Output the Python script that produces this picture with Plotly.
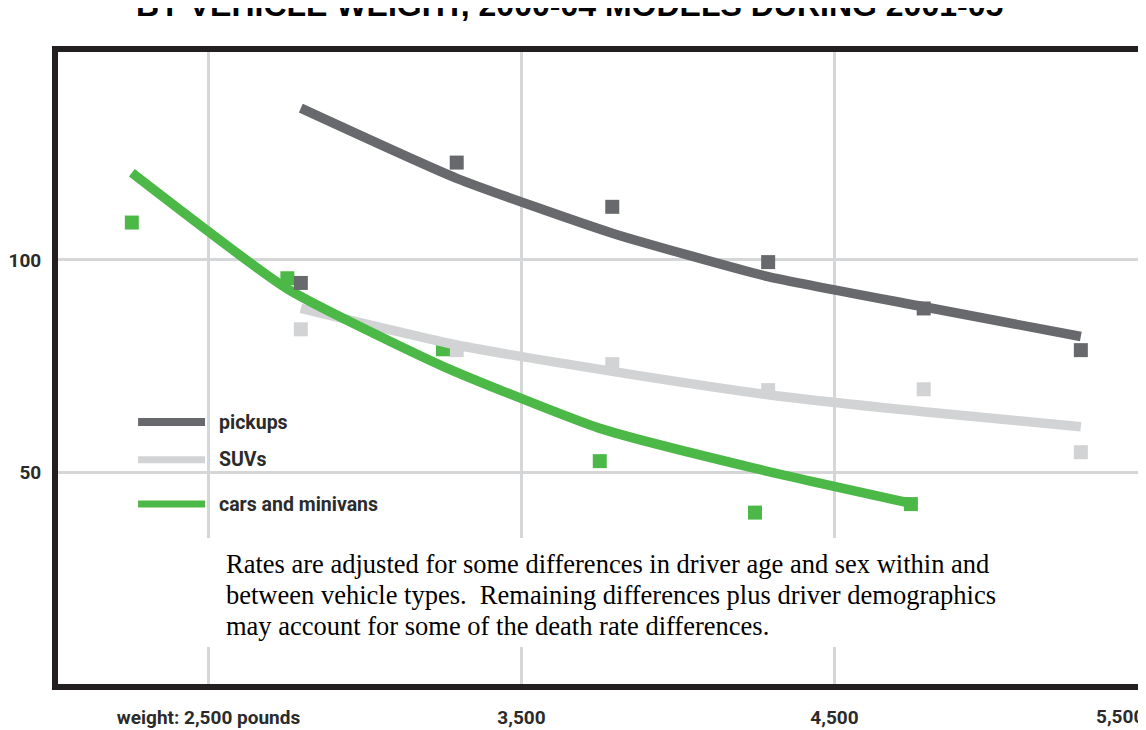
import plotly.graph_objects as go

# ---- data ----
truck_weights = [2795, 3293, 3790, 4288, 4785, 5287]
car_weights = [2255, 2752, 3249, 3750, 4246, 4744]

pickup_rates = [94.6, 122.9, 112.5, 99.5, 88.6, 78.8]
pickup_fit = [135.7, 119.2, 106.3, 96.1, 89.0, 82.0]

suv_rates = [83.7, 78.8, 75.5, 69.4, 69.6, 54.8]
suv_fit = [88.6, 80.0, 73.8, 68.3, 64.3, 60.8]

car_rates = [108.8, 95.7, 79.0, 52.7, 40.6, 42.6]
car_fit = [120.5, 93.2, 75.0, 60.4, 51.0, 42.8]

x_tickvals = [2500, 3500, 4500]
x_ticktext = ["weight: 2,500 pounds", "3,500", "4,500"]
last_x_label = "5,500"
y_tickvals = [50, 100]
y_ticktext = ["50", "100"]

series_names = ["pickups", "SUVs", "cars and minivans"]

title_text = "BY VEHICLE WEIGHT, 2000-04 MODELS DURING 2001-05"
note_lines = [
    "Rates are adjusted for some differences in driver age and sex within and",
    "between vehicle types.\u00a0 Remaining differences plus driver demographics",
    "may account for some of the death rate differences.",
]

# ---- styles ----
DARK = "#68696d"
LIGHT = "#d1d3d4"
GREEN = "#4cb848"
FRAME = "#231f20"
GRID = "#d5d6d8"
TXT = "#2b2b2b"
COND = "Roboto, DejaVu Sans Condensed, sans-serif"

fig = go.Figure()

# squares first (below lines)
fig.add_trace(go.Scatter(x=truck_weights, y=suv_rates, mode="markers",
                         marker=dict(symbol="square", size=14, color=LIGHT), hoverinfo="skip"))
fig.add_trace(go.Scatter(x=car_weights, y=car_rates, mode="markers",
                         marker=dict(symbol="square", size=14, color=GREEN), hoverinfo="skip"))
fig.add_trace(go.Scatter(x=truck_weights, y=suv_fit, mode="lines",
                         line=dict(color=LIGHT, width=9.5, shape="spline", smoothing=0.5), hoverinfo="skip"))
fig.add_trace(go.Scatter(x=car_weights, y=car_fit, mode="lines",
                         line=dict(color=GREEN, width=9.5, shape="spline", smoothing=0.5), hoverinfo="skip"))
fig.add_trace(go.Scatter(x=truck_weights, y=pickup_rates, mode="markers",
                         marker=dict(symbol="square", size=14, color=DARK), hoverinfo="skip"))
fig.add_trace(go.Scatter(x=truck_weights, y=pickup_fit, mode="lines",
                         line=dict(color=DARK, width=9.5, shape="spline", smoothing=0.5), hoverinfo="skip"))

# legend samples (manual)
legend_y = [61.9, 53.0, 42.6]
legend_colors = [DARK, LIGHT, GREEN]
legend_widths = [8, 7, 7]
shapes = []
for yv, c, w in zip(legend_y, legend_colors, legend_widths):
    shapes.append(dict(type="line", xref="x", yref="y", x0=2275, x1=2489, y0=yv, y1=yv,
                       line=dict(color=c, width=w), layer="above"))

# white note box (covers gridlines)
shapes.append(dict(type="rect", xref="x", yref="y", x0=2489, x1=5179, y0=9.0, y1=34.6,
                   fillcolor="white", line=dict(width=0), layer="between"))

annotations = []
for yv, name in zip(legend_y, series_names):
    annotations.append(dict(x=2527, y=yv, xref="x", yref="y", text=name, showarrow=False,
                            xanchor="left", yanchor="middle",
                            font=dict(family=COND, size=19.5, color=TXT, weight="bold")))

note_y = [28.5, 21.2, 14.0]
for yv, line in zip(note_y, note_lines):
    annotations.append(dict(x=2550, y=yv, xref="x", yref="y", text=line, showarrow=False,
                            xanchor="left", yanchor="middle", align="left",
                            font=dict(family="Liberation Serif, Times New Roman, serif",
                                      size=26.5, color="black")))

# last x tick label (5,500) sits at the right edge of the frame
annotations.append(dict(x=1, y=0, xref="paper", yref="paper", text=last_x_label, showarrow=False,
                        xanchor="right", yanchor="middle", xshift=4, yshift=-32,
                        font=dict(family=COND, size=19, color=TXT, weight="bold")))

# heading, clipped by the top edge as in the reference
annotations.append(dict(x=0.4723, y=1, xref="paper", yref="paper", text=title_text,
                        showarrow=False, xanchor="center", yanchor="bottom", yshift=27,
                        font=dict(family="Liberation Sans, Arial, sans-serif", size=32,
                                  color="black", weight="bold")))

fig.update_layout(
    width=1146, height=730,
    margin=dict(l=50, r=12, t=44, b=54, autoexpand=False),
    paper_bgcolor="white", plot_bgcolor="white",
    showlegend=False,
    shapes=shapes, annotations=annotations,
    xaxis=dict(range=[2019.2, 5482.4], tickvals=x_tickvals, ticktext=x_ticktext,
               showgrid=True, gridcolor=GRID, gridwidth=3, zeroline=False, automargin=False,
               showline=True, linewidth=6, linecolor=FRAME, mirror=True,
               ticks="", ticklabelstandoff=11,
               tickfont=dict(family=COND, size=19, color=TXT, weight="bold")),
    yaxis=dict(range=[0.3, 148.9], tickvals=y_tickvals, ticktext=y_ticktext,
               showgrid=True, gridcolor=GRID, gridwidth=3, zeroline=False, automargin=False,
               showline=True, linewidth=6, linecolor=FRAME, mirror=True,
               ticks="", ticklabelstandoff=7,
               tickfont=dict(family=COND, size=19, color=TXT, weight="bold")),
)

fig.write_html("out.html")
